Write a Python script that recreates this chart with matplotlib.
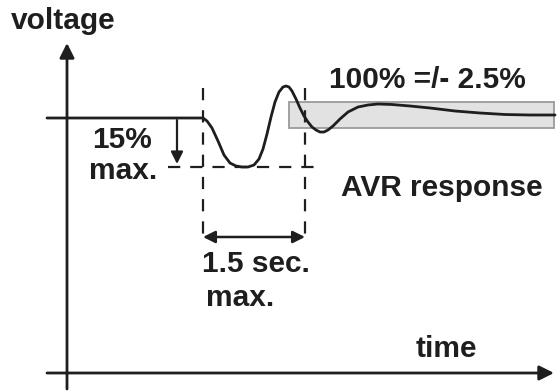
import matplotlib.pyplot as plt
from matplotlib.patches import Rectangle

# waveform (same units as the drawing canvas, y grows downward)
time = [47, 203, 207, 212, 218, 224, 230, 236, 242, 248, 254, 259, 263, 267, 271,
        275, 279, 283, 286, 289, 292, 296, 300, 304, 308, 312, 316, 320, 324, 328,
        333, 340, 348, 358, 368, 378, 392, 410, 430, 455, 480, 505, 530, 555]
voltage = [118, 118, 121, 128, 141, 155, 163, 166, 167, 167, 165, 159, 149, 134, 117,
           102, 92, 87, 86, 87, 91, 99, 108, 116, 122, 127, 130, 132, 132, 130,
           126, 119, 112, 107, 105, 104, 104.5, 106, 108, 111, 113, 114.5, 115, 115]

# tolerance band (100% +/- 2.5%)
band_t = [289, 554]
band_v = [102, 128]

nominal = 118
dip = 167
t_start = 203
t_end = 305

ink = '#1e1e1e'
font = dict(family='Liberation Sans', weight='bold', size=21.5, color=ink)

fig = plt.figure(figsize=(5.59, 3.92), dpi=100)
ax = fig.add_axes([0, 0, 1, 1])
ax.set_xlim(0, 559)
ax.set_ylim(392, 0)
ax.axis('off')

# axes with arrows
ax.annotate('', xy=(67, 43), xytext=(67, 389),
            arrowprops=dict(arrowstyle='-|>', lw=2, color=ink, mutation_scale=22,
                            shrinkA=0, shrinkB=0))
ax.annotate('', xy=(554, 373), xytext=(47, 373),
            arrowprops=dict(arrowstyle='-|>', lw=2, color=ink, mutation_scale=22,
                            shrinkA=0, shrinkB=0))

# band
ax.add_patch(Rectangle((band_t[0], band_v[0]), band_t[1] - band_t[0], band_v[1] - band_v[0],
                       facecolor='#e2e2e2', edgecolor='#9a9a9a', lw=1.3, zorder=1))

# response curve
ax.plot(time, voltage, color=ink, lw=2, zorder=3, solid_capstyle='round')

# dashed guides
dash = dict(color=ink, lw=1.6, linestyle=(0, (5.5, 4.5)), zorder=2)
ax.plot([t_start, t_start], [88, 242], **dash)
ax.plot([t_end, t_end], [88, 242], **dash)
ax.plot([168, 318], [dip, dip], **dash)

# 15% arrow
ax.annotate('', xy=(177, dip - 3), xytext=(177, nominal + 2),
            arrowprops=dict(arrowstyle='-|>', lw=1.6, color=ink, mutation_scale=18,
                            shrinkA=0, shrinkB=0))
# 1.5 sec arrow
ax.annotate('', xy=(t_end, 237), xytext=(t_start, 237),
            arrowprops=dict(arrowstyle='<|-|>', lw=1.8, color=ink, mutation_scale=18,
                            shrinkA=0, shrinkB=0))

# labels
ax.text(11, 21, 'voltage', ha='left', va='center', **font)
ax.text(329, 80, '100% =/- 2.5%', ha='left', va='center', **font)
ax.text(341, 188, 'AVR response', ha='left', va='center', **font)
ax.text(122, 140, '15%', ha='center', va='center', **font)
ax.text(123, 171, 'max.', ha='center', va='center', **font)
ax.text(256, 264, '1.5 sec.', ha='center', va='center', **font)
ax.text(240, 298, 'max.', ha='center', va='center', **font)
ax.text(446, 349, 'time', ha='center', va='center', **font)

fig.savefig('out.png', dpi=100, facecolor='white')
